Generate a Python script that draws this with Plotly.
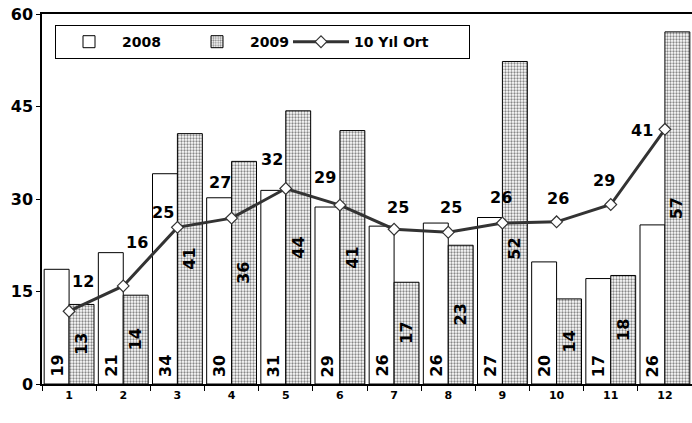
import plotly.graph_objects as go

months = ["1", "2", "3", "4", "5", "6", "7", "8", "9", "10", "11", "12"]
y2008 = [18.6, 21.3, 34.1, 30.2, 31.4, 28.7, 25.6, 26.1, 27.0, 19.8, 17.1, 25.8]
y2009 = [12.9, 14.4, 40.6, 36.1, 44.3, 41.1, 16.5, 22.5, 52.3, 13.8, 17.6, 57.1]
avg10 = [11.8, 15.9, 25.4, 26.9, 31.7, 29.0, 25.1, 24.6, 26.1, 26.3, 29.1, 41.3]
lbl2008 = [19, 21, 34, 30, 31, 29, 26, 26, 27, 20, 17, 26]
lbl2009 = [13, 14, 41, 36, 44, 41, 17, 23, 52, 14, 18, 57]
lblavg = [12, 16, 25, 27, 32, 29, 25, 25, 26, 26, 29, 41]

# label placement offsets (pixels)
avg_dx = [14, 14, -14, -12, -14, -15, 4, 3, -1, 1, -7, -23]
avg_dy = [30, 43, 15, 36, 29, 28, 22, 25, 26, 23, 24, -1]
b09_dy = [0, 0, 0, 0, 0, 0, 0, 0, -26, 0, 0, 0]

FONT = "DejaVu Sans"
bold = dict(family=FONT, size=16, color="black", weight="bold")

fig = go.Figure()
fig.add_trace(go.Bar(
    x=months, y=y2008, name="2008", legendwidth=57,
    marker=dict(color="white", line=dict(color="black", width=1)),
))
fig.add_trace(go.Bar(
    x=months, y=y2009, name="2009", legendwidth=33,
    marker=dict(color="white", line=dict(color="black", width=1),
                pattern=dict(shape=".", size=3, solidity=0.45,
                             fgcolor="#111111", bgcolor="white", fillmode="overlay")),
))
fig.add_trace(go.Scatter(
    x=months, y=avg10, name="10 Yıl Ort", mode="lines+markers", legendwidth=110,
    line=dict(color="#333333", width=3),
    marker=dict(symbol="diamond", size=9, color="white",
                line=dict(color="#333333", width=1.2)),
    cliponaxis=False,
))

annotations = []
for i, m in enumerate(months):
    # category index i positions the label on the category axis
    annotations.append(dict(x=i, y=0, xref="x", yref="y", text=str(lbl2008[i]),
                            textangle=-90, showarrow=False, xanchor="center",
                            yanchor="bottom", xshift=-12.5, yshift=5, font=bold))
    annotations.append(dict(x=i, y=y2009[i] / 2, xref="x", yref="y", text=str(lbl2009[i]),
                            textangle=-90, showarrow=False, xanchor="center",
                            yanchor="middle", xshift=12.5, yshift=b09_dy[i], font=bold))
    annotations.append(dict(x=i, y=avg10[i], xref="x", yref="y", text=str(lblavg[i]),
                            showarrow=False, xanchor="center", yanchor="middle",
                            xshift=avg_dx[i], yshift=avg_dy[i],
                            font=dict(family=FONT, size=16, color="black", weight="bold")))

fig.update_layout(
    width=692, height=423,
    margin=dict(l=42, r=0, t=14, b=39),
    paper_bgcolor="white", plot_bgcolor="white",
    barmode="group", bargap=0.08, bargroupgap=0,
    showlegend=True,
    annotations=annotations,
    legend=dict(
        orientation="h", x=0.02, y=0.97, xanchor="left", yanchor="top",
        bgcolor="white", bordercolor="black", borderwidth=1,
        font=dict(family=FONT, size=14, color="black", weight="bold"),
        itemwidth=56,
    ),
    xaxis=dict(
        type="category", showline=True, linecolor="black", linewidth=1.5,
        mirror=True, ticks="outside", ticklen=5, tickcolor="black",
        tickson="boundaries", showgrid=False, range=[-0.5, 11.5],
        tickfont=dict(family=FONT, size=11, color="black", weight="bold"),
    ),
    yaxis=dict(
        range=[0, 60], tickvals=[0, 15, 30, 45, 60],
        showline=True, linecolor="black", linewidth=1.5,
        ticks="outside", ticklen=4, tickcolor="black",
        showgrid=False, zeroline=False,
        tickfont=dict(family=FONT, size=16, color="black", weight="bold"),
    ),
)

fig.write_html("out.html", config={"displayModeBar": False},
               post_script="document.body.style.margin='0';")
